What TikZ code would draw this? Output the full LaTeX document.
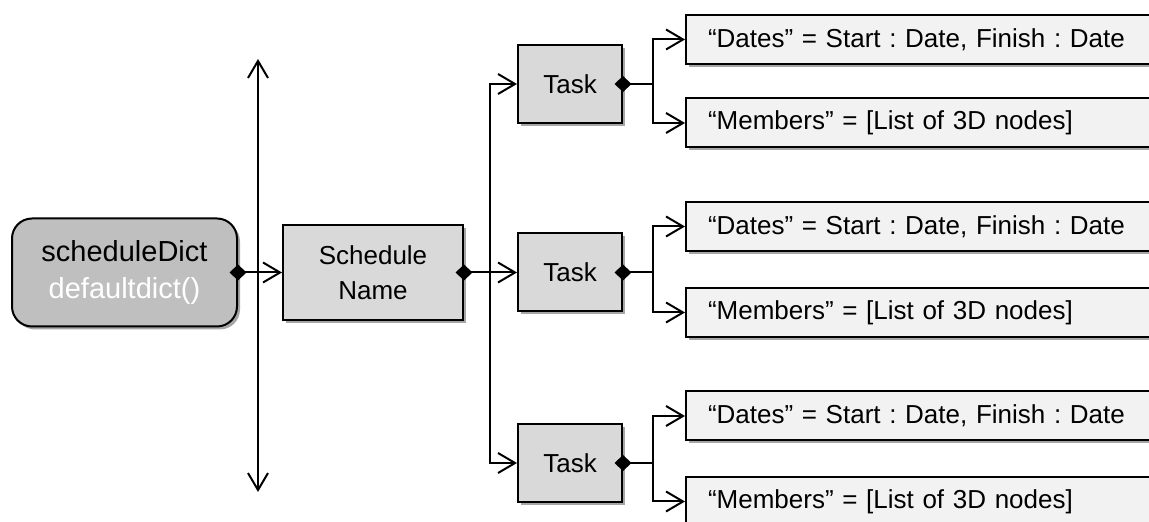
\documentclass[tikz,border=0pt]{standalone}
\usepackage{fontspec}
\setmainfont{Liberation Sans}
\usetikzlibrary{arrows.meta,shadows}

\definecolor{dictfill}{HTML}{BFBFBF}
\definecolor{boxfill}{HTML}{D9D9D9}
\definecolor{leaffill}{HTML}{F2F2F2}

\begin{document}
\frenchspacing
\begin{tikzpicture}[
  x=0.5pt, y=-0.5pt,
  every node/.style={line width=1pt},
  boxshadow/.style={drop shadow={shadow xshift=1.5pt, shadow yshift=-1.5pt, opacity=0.35, fill=black}},
  dictbox/.style={draw=black, fill=dictfill, rounded corners=10pt, boxshadow,
    minimum width=112.5pt, minimum height=54pt, align=center,
    font=\fontsize{14.5}{18.5}\selectfont},
  keybox/.style={draw=black, fill=boxfill, boxshadow, align=center,
    minimum width=90pt, minimum height=47.5pt, font=\fontsize{13}{17.5}\selectfont},
  taskbox/.style={draw=black, fill=boxfill, boxshadow,
    minimum width=52pt, minimum height=39pt, font=\fontsize{13}{16}\selectfont},
  leafbox/.style={draw=black, fill=leaffill, boxshadow, anchor=west,
    text width=218pt, inner xsep=11pt, align=left,
    minimum height=24.5pt, font=\fontsize{13}{16}\selectfont},
  link/.style={line width=1pt},
  arr/.style={link, -{Straight Barb[length=8.5pt,width=10pt]}},
  owner/.style={link, {Diamond[length=8.5pt,width=8pt]}-, shorten <=-4.25pt},
  ownerarr/.style={link, {Diamond[length=8.5pt,width=8pt]}-{Straight Barb[length=8.5pt,width=10pt]}, shorten <=-4.25pt},
]
\useasboundingbox (0,0) rectangle (1149,522);
\clip (0,0) rectangle (1149,522);

% boxes
\node[dictbox] (dict) at (124.5,272.5) {scheduleDict\\\textcolor{white}{defaultdict()}};
\node[keybox] (sched) at (373,272.5) {Schedule\\Name};

\node[taskbox] (task1) at (570,84) {Task};
\node[taskbox] (task2) at (570,272.5) {Task};
\node[taskbox] (task3) at (570,463) {Task};

\node[leafbox] (dates1) at (685,39.5) {“Dates” = Start : Date, Finish : Date};
\node[leafbox] (memb1) at (685,123) {“Members” = [List of 3D nodes]};
\node[leafbox] (dates2) at (685,226.5) {“Dates” = Start : Date, Finish : Date};
\node[leafbox] (memb2) at (685,312.5) {“Members” = [List of 3D nodes]};
\node[leafbox] (dates3) at (685,416) {“Dates” = Start : Date, Finish : Date};
\node[leafbox] (memb3) at (685,501.5) {“Members” = [List of 3D nodes]};

% vertical double arrow
\coordinate (vtop) at (258,59);
\coordinate (vbot) at (258,492);
\draw[link, {Straight Barb[length=8.5pt,width=10pt]}-{Straight Barb[length=8.5pt,width=10pt]}] (vtop) -- (vbot);

% dictionary to key
\draw[ownerarr] (dict.east) -- (sched.west);

% key to tasks
\coordinate (jk) at (490,272.5);
\draw[owner] (sched.east) -- (jk);
\draw[arr] (jk) |- (task1.west);
\draw[arr] (jk) -- (task2.west);
\draw[arr] (jk) |- (task3.west);

% tasks to their fields
\coordinate (j1) at (653,84);
\coordinate (j2) at (653,272.5);
\coordinate (j3) at (653,463);
\draw[owner] (task1.east) -- (j1);
\draw[arr] (j1) |- (dates1.west);
\draw[arr] (j1) |- (memb1.west);
\draw[owner] (task2.east) -- (j2);
\draw[arr] (j2) |- (dates2.west);
\draw[arr] (j2) |- (memb2.west);
\draw[owner] (task3.east) -- (j3);
\draw[arr] (j3) |- (dates3.west);
\draw[arr] (j3) |- (memb3.west);
\end{tikzpicture}
\end{document}
